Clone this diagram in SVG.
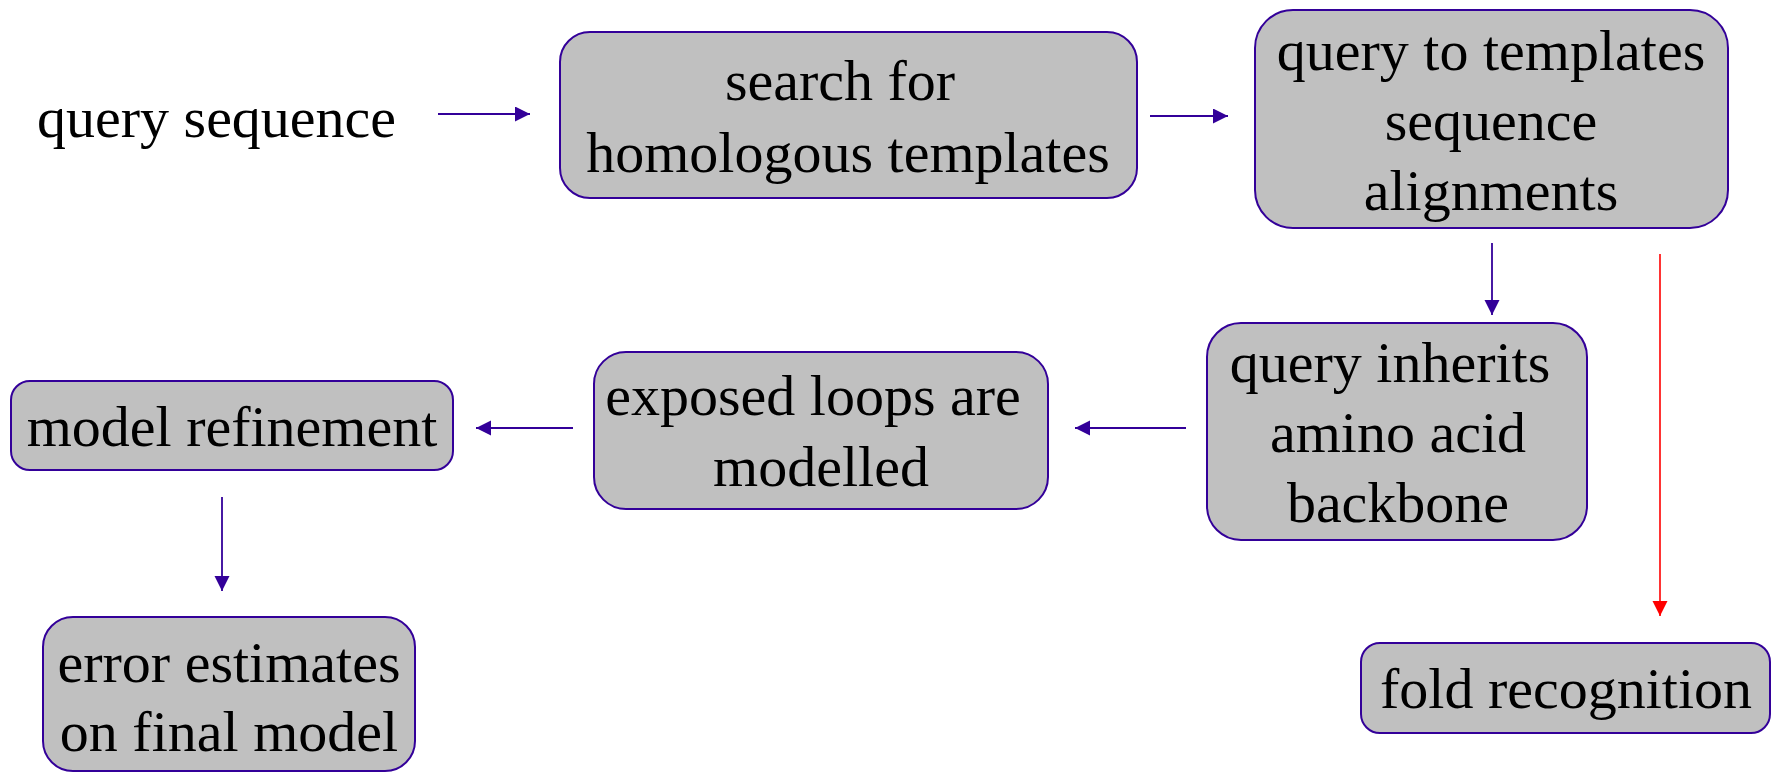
<svg xmlns="http://www.w3.org/2000/svg" width="1777" height="772" viewBox="0 0 1777 772">
  <style>
    .box { fill: #c0c0c0; stroke: #330099; stroke-width: 2; }
    .lbl { font-family: "Liberation Serif", "Times New Roman", serif; font-size: 58px; fill: #000; text-anchor: middle; }
    .start { text-anchor: start; }
    .flow { stroke: #330099; stroke-width: 1.8; fill: none; marker-end: url(#headBlue); }
    .alt { stroke: #ff0000; stroke-width: 1.6; fill: none; marker-end: url(#headRed); }
  </style>
  <defs>
    <marker id="headBlue" markerUnits="userSpaceOnUse" markerWidth="16" markerHeight="16" refX="15" refY="7.5" orient="auto">
      <path d="M0,0 L15,7.5 L0,15 z" fill="#330099"/>
    </marker>
    <marker id="headRed" markerUnits="userSpaceOnUse" markerWidth="16" markerHeight="16" refX="15" refY="7.5" orient="auto">
      <path d="M0,0 L15,7.5 L0,15 z" fill="#ff0000"/>
    </marker>
  </defs>

  <rect width="1777" height="772" fill="#ffffff"/>

  <!-- connectors -->
  <g id="connectors">
    <line class="flow" x1="438" y1="114" x2="530" y2="114"/>
    <line class="flow" x1="1150" y1="116" x2="1228" y2="116"/>
    <line class="flow" x1="1492" y1="243" x2="1492" y2="315"/>
    <line class="alt" x1="1660" y1="254" x2="1660" y2="616"/>
    <line class="flow" x1="1186" y1="428" x2="1075" y2="428"/>
    <line class="flow" x1="573" y1="428" x2="476" y2="428"/>
    <line class="flow" x1="222" y1="497" x2="222" y2="591"/>
  </g>

  <!-- input label -->
  <g id="query-sequence">
    <text class="lbl start" x="37" y="137">query sequence</text>
  </g>

  <g id="search-templates">
    <rect class="box" x="560" y="32" width="577" height="166" rx="30" ry="30"/>
    <text class="lbl" x="840" y="100">search for</text>
    <text class="lbl" x="848" y="172">homologous templates</text>
  </g>

  <g id="alignments">
    <rect class="box" x="1255" y="10" width="473" height="218" rx="38" ry="38"/>
    <text class="lbl" x="1491" y="70">query to templates</text>
    <text class="lbl" x="1491" y="140">sequence</text>
    <text class="lbl" x="1491" y="210">alignments</text>
  </g>

  <g id="inherits-backbone">
    <rect class="box" x="1207" y="323" width="380" height="217" rx="34" ry="34"/>
    <text class="lbl" x="1390" y="382">query inherits</text>
    <text class="lbl" x="1398" y="452">amino acid</text>
    <text class="lbl" x="1398" y="522">backbone</text>
  </g>

  <g id="loops-modelled">
    <rect class="box" x="594" y="352" width="454" height="157" rx="32" ry="32"/>
    <text class="lbl" x="813" y="415">exposed loops are</text>
    <text class="lbl" x="821" y="486">modelled</text>
  </g>

  <g id="model-refinement">
    <rect class="box" x="11" y="381" width="442" height="89" rx="19" ry="19"/>
    <text class="lbl" x="232" y="446">model refinement</text>
  </g>

  <g id="error-estimates">
    <rect class="box" x="43" y="617" width="372" height="154" rx="30" ry="30"/>
    <text class="lbl" x="229" y="682">error estimates</text>
    <text class="lbl" x="229" y="751">on final model</text>
  </g>

  <g id="fold-recognition">
    <rect class="box" x="1361" y="643" width="409" height="90" rx="19" ry="19"/>
    <text class="lbl" x="1566" y="708">fold recognition</text>
  </g>
</svg>
